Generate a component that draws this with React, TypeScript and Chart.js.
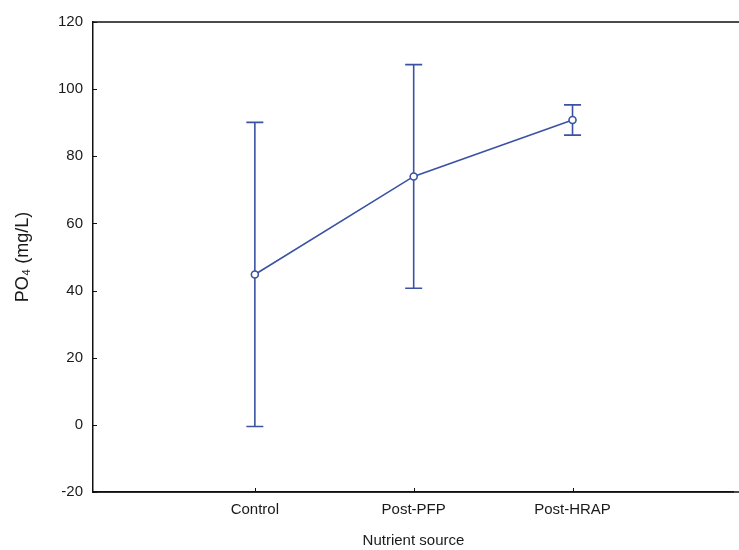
import React, { useEffect, useRef } from "react";
import { Chart, registerables } from "chart.js";

Chart.register(...registerables);

const categories = ["Control", "Post-PFP", "Post-HRAP"];
const positions = [1, 2, 3];
const means = [44.8, 74.0, 90.8];
const errors = [45.3, 33.3, 4.5];
const yTicks = [-20, 0, 20, 40, 60, 80, 100, 120];

const SERIES_COLOR = "#3a52a3";
const AXIS_COLOR = "#111111";
const FONT = "'Liberation Sans', Arial, sans-serif";

const errorBarPlugin = {
  id: "errorBars",
  beforeDatasetsDraw(chart: any) {
    const ctx = chart.ctx;
    const xs = chart.scales.x;
    const ys = chart.scales.y;
    ctx.save();
    ctx.strokeStyle = SERIES_COLOR;
    ctx.lineWidth = 1.6;
    positions.forEach((p, i) => {
      const x = xs.getPixelForValue(p);
      const yTop = ys.getPixelForValue(means[i] + errors[i]);
      const yBot = ys.getPixelForValue(means[i] - errors[i]);
      const cap = 8.5;
      ctx.beginPath();
      ctx.moveTo(x, yTop);
      ctx.lineTo(x, yBot);
      ctx.moveTo(x - cap, yTop);
      ctx.lineTo(x + cap, yTop);
      ctx.moveTo(x - cap, yBot);
      ctx.lineTo(x + cap, yBot);
      ctx.stroke();
    });
    ctx.restore();
  },
  afterDraw(chart: any) {
    const ctx = chart.ctx;
    const { left, top, bottom } = chart.chartArea;
    const xs = chart.scales.x;
    const ys = chart.scales.y;
    ctx.save();
    ctx.strokeStyle = AXIS_COLOR;
    ctx.lineWidth = 1.5;
    ctx.beginPath();
    ctx.moveTo(left, top);
    ctx.lineTo(chart.width, top);
    ctx.moveTo(left, bottom);
    ctx.lineTo(chart.width, bottom);
    ctx.stroke();
    ctx.lineWidth = 1;
    ctx.beginPath();
    yTicks.forEach((v) => {
      const y = Math.round(ys.getPixelForValue(v)) + 0.5;
      ctx.moveTo(left, y);
      ctx.lineTo(left + 4, y);
    });
    positions.forEach((p) => {
      const x = Math.round(xs.getPixelForValue(p)) + 0.5;
      ctx.moveTo(x, bottom);
      ctx.lineTo(x, bottom - 4);
    });
    ctx.stroke();
    ctx.restore();
  },
};

export default function App() {
  const canvasRef = useRef<HTMLCanvasElement | null>(null);

  useEffect(() => {
    if (!canvasRef.current) return;
    const chart = new Chart(canvasRef.current, {
      type: "scatter",
      data: {
        datasets: [
          {
            data: positions.map((p, i) => ({ x: p, y: means[i] })),
            showLine: true,
            borderColor: SERIES_COLOR,
            borderWidth: 1.6,
            backgroundColor: "rgba(0,0,0,0)",
            pointBackgroundColor: "#ffffff",
            pointBorderColor: SERIES_COLOR,
            pointBorderWidth: 1.6,
            pointRadius: 3.5,
            pointHoverRadius: 3.5,
            tension: 0,
          },
        ],
      },
      options: {
        responsive: false,
        animation: false,
        devicePixelRatio: 1,
        layout: { padding: { top: 22, right: 0, left: 0, bottom: 0 } },
        plugins: {
          legend: { display: false },
          tooltip: { enabled: false },
        },
        scales: {
          x: {
            type: "linear",
            min: -0.019,
            max: 4.016,
            afterFit(scale: any) {
              scale.height = 58;
            },
            afterBuildTicks(scale: any) {
              scale.ticks = positions.map((v) => ({ value: v }));
            },
            grid: { display: false, drawTicks: false },
            border: { display: true, color: AXIS_COLOR, width: 1.5 },
            ticks: {
              padding: 9,
              color: "#1a1a1a",
              font: { family: FONT, size: 15 },
              maxRotation: 0,
              autoSkip: false,
              callback: (v: any) => {
                const idx = positions.indexOf(Number(v));
                return idx >= 0 ? categories[idx] : "";
              },
            },
            title: {
              display: true,
              text: "Nutrient source",
              color: "#1a1a1a",
              font: { family: FONT, size: 15 },
              padding: { top: 0, bottom: 0 },
            },
          },
          y: {
            type: "linear",
            min: -20,
            max: 120,
            afterFit(scale: any) {
              scale.width = 93;
            },
            afterBuildTicks(scale: any) {
              scale.ticks = yTicks.map((v) => ({ value: v }));
            },
            grid: { display: false, drawTicks: false },
            border: { display: true, color: AXIS_COLOR, width: 1.5 },
            ticks: {
              padding: 10,
              color: "#1a1a1a",
              font: { family: FONT, size: 15 },
            },
            title: {
              display: true,
              text: "PO₄ (mg/L)",
              color: "#1a1a1a",
              font: { family: FONT, size: 18 },
              padding: { top: 12, bottom: 0 },
            },
          },
        },
      },
      plugins: [errorBarPlugin],
    } as any);
    return () => chart.destroy();
  }, []);

  return (
    <div style={{ position: "absolute", left: 0, top: 0, width: 739, height: 550, background: "#fff" }}>
      <canvas ref={canvasRef} width={739} height={550} style={{ display: "block" }} />
    </div>
  );
}
